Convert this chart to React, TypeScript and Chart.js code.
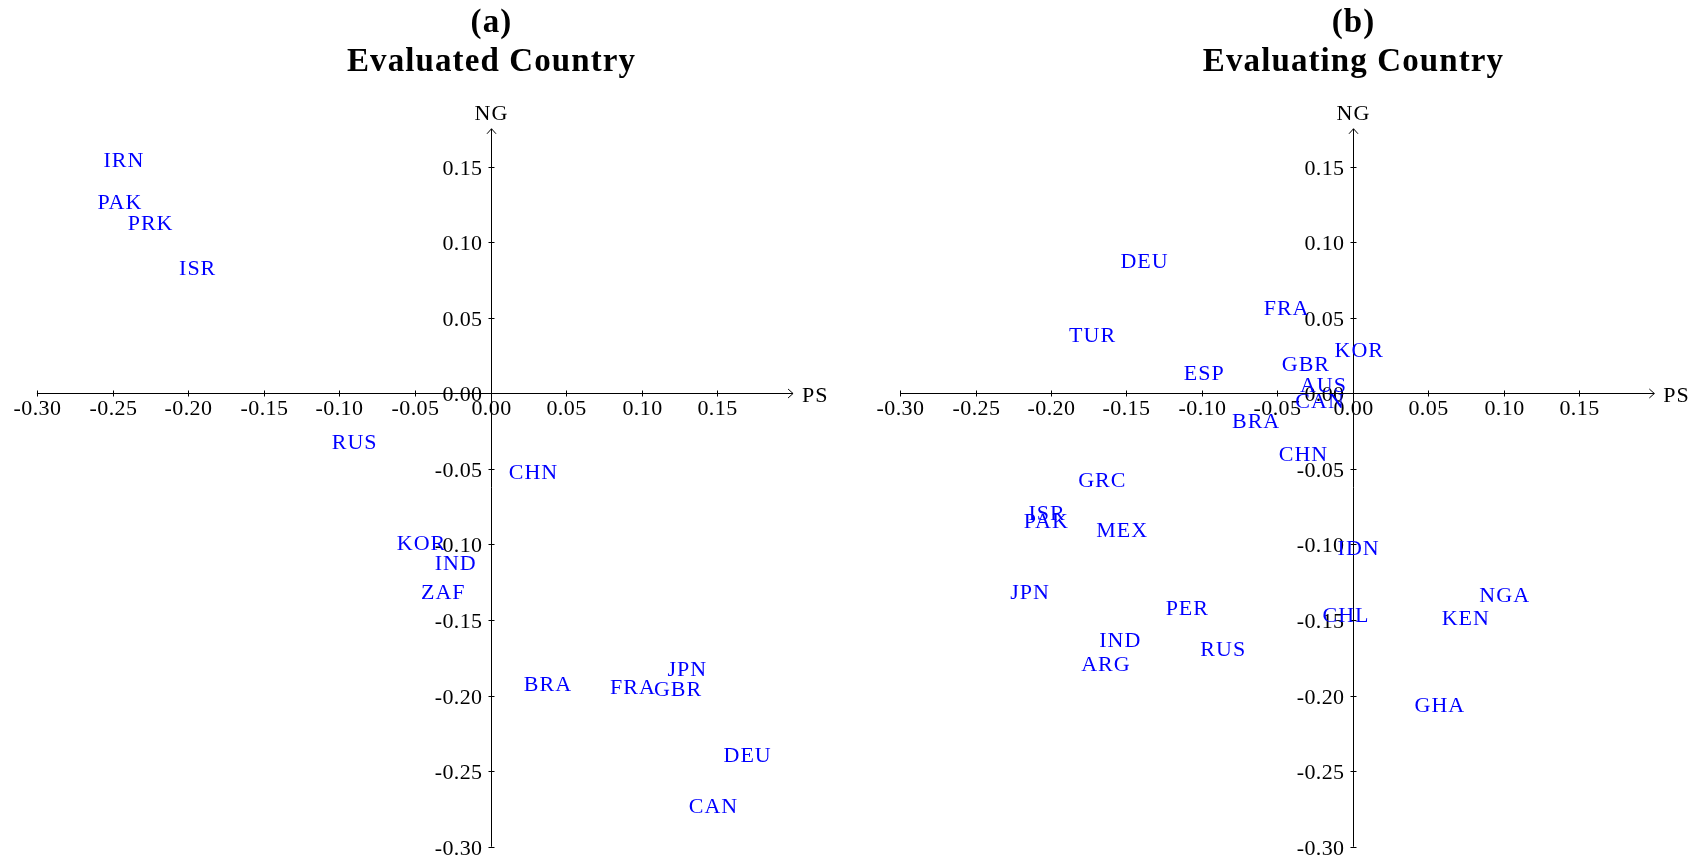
import React, { useEffect, useRef } from "react";
import { Chart, registerables } from "chart.js";

Chart.register(...registerables);

// ---- Panel (a): Evaluated Country ----
const evaluatedCountries = ["IRN", "PAK", "PRK", "ISR", "RUS", "CHN", "KOR", "IND", "ZAF", "BRA", "FRA", "GBR", "JPN", "DEU", "CAN"];
const evaluatedPS = [-0.256, -0.260, -0.240, -0.206, -0.105, 0.012, -0.062, -0.037, -0.046, 0.022, 0.079, 0.108, 0.117, 0.154, 0.131];
const evaluatedNG = [0.150, 0.122, 0.108, 0.078, -0.037, -0.057, -0.104, -0.117, -0.136, -0.197, -0.199, -0.200, -0.187, -0.244, -0.278];

// ---- Panel (b): Evaluating Country ----
const evaluatingCountries = ["DEU", "FRA", "TUR", "KOR", "GBR", "ESP", "AUS", "CAN", "BRA", "CHN", "GRC", "ISR", "PAK", "MEX", "IDN", "JPN", "NGA", "PER", "CHL", "KEN", "IND", "RUS", "ARG", "GHA"];
const evaluatingPS = [-0.154, -0.059, -0.188, -0.012, -0.047, -0.112, -0.035, -0.038, -0.080, -0.049, -0.182, -0.215, -0.218, -0.170, -0.010, -0.227, 0.084, -0.124, -0.020, 0.059, -0.168, -0.101, -0.180, 0.041];
const evaluatingNG = [0.083, 0.052, 0.034, 0.024, 0.015, 0.009, 0.001, -0.010, -0.023, -0.045, -0.062, -0.084, -0.089, -0.095, -0.107, -0.136, -0.138, -0.147, -0.151, -0.153, -0.168, -0.174, -0.184, -0.211];

// ---- Axes ----
const xTickValues = [-0.30, -0.25, -0.20, -0.15, -0.10, -0.05, 0.0, 0.05, 0.10, 0.15];
const yTickValues = [-0.30, -0.25, -0.20, -0.15, -0.10, -0.05, 0.0, 0.05, 0.10, 0.15];
const xAxisRange = [-0.30, 0.20];
const yAxisRange = [-0.30, 0.175];
const xAxisName = "PS";
const yAxisName = "NG";

const SERIF = '"Liberation Serif", "Times New Roman", serif';
const TICK_FONT = `22px ${SERIF}`;
const LABEL_FONT = `22px ${SERIF}`;
const TITLE_FONT = `bold 33px ${SERIF}`;

const fmt = (v: number) => v.toFixed(2);

const crossAxesPlugin = {
  id: "crossAxes",
  beforeDatasetsDraw(chart: any, _args: any, opts: any) {
    const ctx = chart.ctx;
    const xs = chart.scales.x;
    const ys = chart.scales.y;
    const x0 = Math.round(xs.getPixelForValue(0)) + 0.5;
    const y0 = Math.round(ys.getPixelForValue(0)) + 0.5;
    ctx.save();
    ctx.strokeStyle = "#000";
    ctx.fillStyle = "#000";
    ctx.lineWidth = 1;

    // x axis
    const xa = xs.getPixelForValue(xAxisRange[0]);
    const xb = xs.getPixelForValue(xAxisRange[1]);
    ctx.beginPath();
    ctx.moveTo(xa, y0);
    ctx.lineTo(xb, y0);
    ctx.stroke();
    ctx.beginPath();
    ctx.moveTo(xb - 5, y0 - 4.5);
    ctx.lineTo(xb, y0);
    ctx.lineTo(xb - 5, y0 + 4.5);
    ctx.stroke();

    // y axis
    const ya = ys.getPixelForValue(yAxisRange[0]);
    const yb = ys.getPixelForValue(yAxisRange[1]);
    ctx.beginPath();
    ctx.moveTo(x0, ya);
    ctx.lineTo(x0, yb);
    ctx.stroke();
    ctx.beginPath();
    ctx.moveTo(x0 - 4.5, yb + 5);
    ctx.lineTo(x0, yb);
    ctx.lineTo(x0 + 4.5, yb + 5);
    ctx.stroke();

    // x ticks
    ctx.font = TICK_FONT;
    (ctx as any).letterSpacing = "0.4px";
    ctx.textAlign = "center";
    ctx.textBaseline = "alphabetic";
    for (const v of xTickValues) {
      const px = Math.round(xs.getPixelForValue(v)) + 0.5;
      ctx.beginPath();
      ctx.moveTo(px, y0 - 3);
      ctx.lineTo(px, y0 + 3);
      ctx.stroke();
      ctx.fillText(fmt(v), px, y0 + 21.5);
    }
    // y ticks
    ctx.textAlign = "right";
    for (const v of yTickValues) {
      const py = Math.round(ys.getPixelForValue(v)) + 0.5;
      ctx.beginPath();
      ctx.moveTo(x0 - 3, py);
      ctx.lineTo(x0 + 3, py);
      ctx.stroke();
      ctx.fillText(fmt(v), x0 - 9, py + 7.3);
    }

    // axis names
    (ctx as any).letterSpacing = "1px";
    ctx.textAlign = "left";
    ctx.fillText(xAxisName, xb + 9, y0 + 8.4);
    ctx.textAlign = "center";
    ctx.fillText(yAxisName, x0, yb - 8.3);

    // titles
    ctx.font = TITLE_FONT;
    (ctx as any).letterSpacing = "1.1px";
    ctx.textAlign = "center";
    ctx.fillText(opts.tag, x0, 32);
    ctx.fillText(opts.title, x0, 70.7);
    ctx.restore();
  },
  afterDatasetsDraw(chart: any) {
    const ctx = chart.ctx;
    const labels = chart.data.labels as string[];
    const meta = chart.getDatasetMeta(0);
    ctx.save();
    ctx.font = LABEL_FONT;
    (ctx as any).letterSpacing = "1px";
    ctx.fillStyle = "#0000ff";
    ctx.textAlign = "left";
    ctx.textBaseline = "alphabetic";
    meta.data.forEach((el: any, i: number) => {
      ctx.fillText(labels[i], el.x, el.y);
    });
    ctx.restore();
  },
};

type PanelProps = {
  names: string[];
  ps: number[];
  ng: number[];
  tag: string;
  title: string;
  left: number;
  width: number;
  padding: { left: number; right: number; top: number; bottom: number };
};

const xRange = [-0.32, 0.22];
const yRange = [-0.305, 0.19];
const HEIGHT = 859;

function Panel({ names, ps, ng, tag, title, left, width, padding }: PanelProps) {
  const ref = useRef<HTMLCanvasElement | null>(null);
  useEffect(() => {
    if (!ref.current) return;
    const chart = new Chart(ref.current, {
      type: "scatter",
      data: {
        labels: names,
        datasets: [
          {
            data: ps.map((x, i) => ({ x, y: ng[i] })),
            pointRadius: 0,
            pointHoverRadius: 0,
            showLine: false,
            backgroundColor: "#0000ff",
          },
        ],
      },
      options: {
        animation: false,
        responsive: false,
        devicePixelRatio: 1,
        events: [],
        layout: { padding },
        scales: {
          x: { type: "linear", min: xRange[0], max: xRange[1], display: false },
          y: { type: "linear", min: yRange[0], max: yRange[1], display: false },
        },
        plugins: {
          legend: { display: false },
          tooltip: { enabled: false },
          title: { display: false },
          crossAxes: { tag, title },
        } as any,
      },
      plugins: [crossAxesPlugin],
    });
    return () => chart.destroy();
  }, []);
  return (
    <canvas
      ref={ref}
      width={width}
      height={HEIGHT}
      style={{ position: "absolute", left, top: 0, width, height: HEIGHT }}
    />
  );
}

export default function App() {
  return (
    <div style={{ position: "absolute", left: 0, top: 0, width: 1705, height: HEIGHT, background: "#fff" }}>
      <Panel
        names={evaluatedCountries}
        ps={evaluatedPS}
        ng={evaluatedNG}
        tag="(a)"
        title="Evaluated Country"
        left={0}
        width={852}
        padding={{ left: 6.66, right: 28.7, top: 106.1, bottom: 4.7 }}
      />
      <Panel
        names={evaluatingCountries}
        ps={evaluatingPS}
        ng={evaluatingNG}
        tag="(b)"
        title="Evaluating Country"
        left={852}
        width={853}
        padding={{ left: 18.0, right: 20.5, top: 106.1, bottom: 4.7 }}
      />
    </div>
  );
}
